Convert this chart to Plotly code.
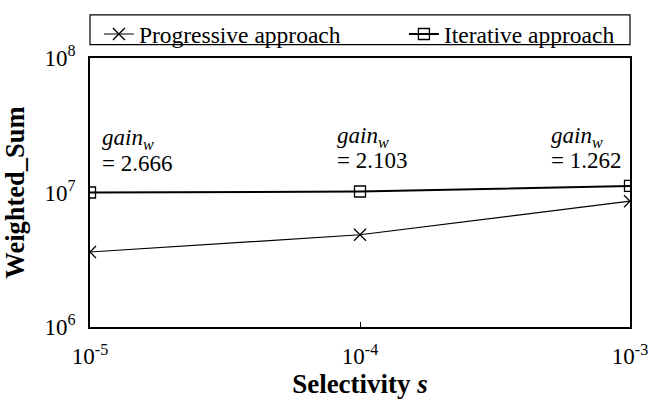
import plotly.graph_objects as go
import math

selectivity = [1e-5, 1e-4, 1e-3]
progressive = [3.61e6, 4.85e6, 8.62e6]
iterative = [1.0e7, 1.017e7, 1.12e7]
gains = ["2.666", "2.103", "1.262"]
x_ticktext = ["10<sup>-5</sup>", "10<sup>-4</sup>", "10<sup>-3</sup>"]
y_tickvals = [1e6, 1e7, 1e8]
y_ticktext = ["10<sup>6</sup>", "10<sup>7</sup>", "10<sup>8</sup>"]

FONT = "Liberation Serif"
W, H = 660, 406
L, R, T, B = 88, 25, 46, 78
PW, PH = W - L - R, H - T - B

fig = go.Figure()
fig.add_trace(go.Scatter(x=selectivity, y=progressive, mode="lines+markers",
                         name="Progressive approach", legend="legend",
                         line=dict(color="black", width=1.2),
                         marker=dict(symbol="x-thin-open", size=12, color="black",
                                     line=dict(color="black", width=1.3))))
fig.add_trace(go.Scatter(x=selectivity, y=iterative, mode="lines+markers",
                         name="Iterative approach", legend="legend2",
                         line=dict(color="black", width=2),
                         marker=dict(symbol="square-open", size=11, color="black",
                                     line=dict(color="black", width=1.3))))

anns = []
xshift = [10, -25, -81]
y1shift = [54, 56, 56]
y2shift = [29, 32, 32]
for xv, g, sh, s1, s2 in zip(selectivity, gains, xshift, y1shift, y2shift):
    anns.append(dict(x=math.log10(xv), y=7, xref="x", yref="y",
                     text="<i>gain</i><sub><i>w</i></sub>",
                     showarrow=False, xanchor="left", yanchor="middle",
                     xshift=sh, yshift=s1,
                     font=dict(family=FONT, size=23, color="black")))
    anns.append(dict(x=math.log10(xv), y=7, xref="x", yref="y",
                     text="= " + g,
                     showarrow=False, xanchor="left", yanchor="middle",
                     xshift=sh, yshift=s2,
                     font=dict(family=FONT, size=23, color="black")))

# legend frame
fig.add_shape(type="rect", xref="paper", yref="paper",
              x0=0, x1=1, y0=1 + (T - 32) / PH, y1=1 + (T - 0.7) / PH,
              line=dict(color="black", width=1.2), fillcolor="rgba(0,0,0,0)")

leg_common = dict(orientation="h", xanchor="left", yanchor="top",
                  y=1 + (T + 2) / PH, borderwidth=0, itemwidth=30,
                  font=dict(family=FONT, size=23.5), bgcolor="rgba(0,0,0,0)")

fig.update_layout(
    width=W, height=H,
    margin=dict(l=L, r=R, t=T, b=B),
    plot_bgcolor="white", paper_bgcolor="white",
    font=dict(family=FONT, size=23, color="black"),
    showlegend=True,
    legend=dict(x=(97 - L) / PW, **leg_common),
    legend2=dict(x=(406 - L) / PW, **leg_common),
    annotations=anns,
    xaxis=dict(type="log", range=[-5, -3], tickvals=selectivity, ticktext=x_ticktext,
               showgrid=False, zeroline=False, showline=True, linecolor="black",
               linewidth=1.5, mirror=True, ticks="inside", ticklen=5,
               tickcolor="black", ticklabelstandoff=8,
               tickfont=dict(family=FONT, size=23),
               title=dict(text="<b>Selectivity <i>s</i></b>",
                          font=dict(family=FONT, size=27), standoff=6)),
    yaxis=dict(type="log", range=[6, 8], tickvals=y_tickvals, ticktext=y_ticktext,
               showgrid=False, zeroline=False, showline=True, linecolor="black",
               linewidth=1.5, mirror=True, ticks="", ticklabelstandoff=8,
               tickfont=dict(family=FONT, size=23),
               title=dict(text="<b>Weighted_Sum</b>",
                          font=dict(family=FONT, size=26.5), standoff=14)),
)

fig.write_html("out.html", config={"displayModeBar": False},
               post_script="document.body.style.margin='0';document.body.style.overflow='hidden';")
